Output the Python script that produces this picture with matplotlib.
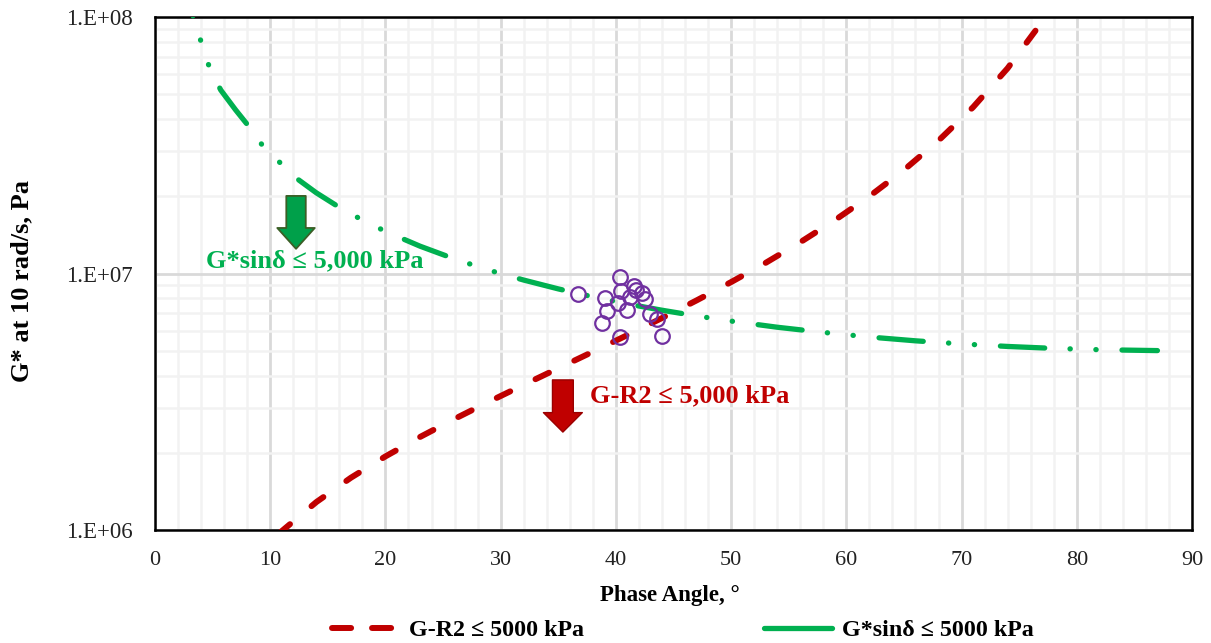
import matplotlib
matplotlib.use("Agg")
import matplotlib.pyplot as plt
from matplotlib.patches import FancyArrowPatch
from matplotlib.lines import Line2D
from matplotlib.ticker import FixedLocator, FuncFormatter, LogLocator, MultipleLocator
import numpy as np

plt.rcParams['font.family'] = ['Liberation Serif', 'DejaVu Serif']

# ---- data ----
gr_angle = [10, 11, 14, 17, 20, 23, 26, 29, 32, 35, 38, 41, 44, 47, 50, 53, 56,
            59, 62, 65, 68, 71, 74, 77, 78]
gr_gstar = [8.95e5, 9.90e5, 1.285e6, 1.599e6, 1.937e6, 2.306e6, 2.713e6, 3.169e6,
            3.684e6, 4.274e6, 4.958e6, 5.759e6, 6.713e6, 7.862e6, 9.270e6, 1.102e7,
            1.326e7, 1.616e7, 2.003e7, 2.537e7, 3.304e7, 4.460e7, 6.33e7, 9.62e7, 1.13e8]

gs_angle = [3.0, 3.33, 4.06, 4.75, 5.71, 7.0, 8.11, 9.4, 11, 12, 14, 16, 18, 20, 23,
            26, 29, 32, 35, 38, 41, 44, 47, 50, 54, 58, 62, 66, 70, 74, 78, 82, 87]
gs_gstar = [1.12e8, 1.0e8, 7.87e7, 6.32e7, 5.2e7, 4.35e7, 3.77e7, 3.13e7, 2.67e7,
            2.405e7, 2.067e7, 1.814e7, 1.618e7, 1.462e7, 1.280e7, 1.141e7, 1.031e7,
            9.44e6, 8.72e6, 8.12e6, 7.62e6, 7.20e6, 6.84e6, 6.53e6, 6.18e6, 5.90e6,
            5.66e6, 5.47e6, 5.32e6, 5.20e6, 5.11e6, 5.05e6, 5.01e6]

pts_angle = [36.67, 40.35, 39.04, 40.43, 41.54, 41.74, 41.24, 42.23, 42.52, 39.19,
             40.15, 40.96, 42.98, 43.57, 38.76, 40.35, 43.97]
pts_gstar = [8.33e6, 9.68e6, 8.06e6, 8.56e6, 8.98e6, 8.64e6, 8.13e6, 8.39e6, 7.97e6,
             7.17e6, 7.71e6, 7.22e6, 6.97e6, 6.66e6, 6.40e6, 5.65e6, 5.71e6]

x_ticks = [0, 10, 20, 30, 40, 50, 60, 70, 80, 90]
y_ticks = [1e6, 1e7, 1e8]

RED = '#c00000'
GREEN = '#00b050'
PURPLE = '#7030a0'

fig = plt.figure(figsize=(12.11, 6.43), dpi=100)
W, H = 1211, 643
ax = fig.add_axes([155 / W, 1 - 530 / H, (1192 - 155) / W, (530 - 17.3) / H])

ax.set_yscale('log')
ax.set_xlim(0, 90)
ax.set_ylim(1e6, 1e8)

# grid
ax.xaxis.set_major_locator(FixedLocator(x_ticks))
ax.xaxis.set_minor_locator(MultipleLocator(2))
ax.yaxis.set_major_locator(FixedLocator(y_ticks))
ax.yaxis.set_minor_locator(LogLocator(base=10, subs=np.arange(2, 10)))
ax.grid(which='major', color='#d9d9d9', lw=2.0, zorder=0)
ax.grid(which='minor', color='#f2f2f2', lw=1.8, zorder=0)
ax.set_axisbelow(True)
ax.tick_params(which='both', length=0)
ax.tick_params(axis='x', labelsize=16, pad=15, colors='#222222')
ax.tick_params(axis='y', labelsize=16.5, pad=16.2, colors='#222222')
ax.yaxis.set_minor_formatter(FuncFormatter(lambda v, p: ''))
ax.yaxis.set_major_formatter(FuncFormatter(lambda v, p: '1.E+%02d' % int(round(np.log10(v)))))
for s in ax.spines.values():
    s.set_linewidth(1.8)
    s.set_color('black')

# curves
red_line, = ax.plot(gr_angle, gr_gstar, color=RED, lw=4.3, solid_capstyle='round',
                    dash_capstyle='round', ls=(5.2, (2.5, 4.7)), zorder=3)
green_line, = ax.plot(gs_angle, gs_gstar, color=GREEN, lw=3.8, dash_capstyle='round',
                      solid_capstyle='round',
                      ls=(6.2, (8.4, 4.8, 0.05, 4.85, 0.05, 4.9)), zorder=3)

ax.plot(pts_angle, pts_gstar, ls='none', marker='o', ms=10.5, mfc='none', mec=PURPLE,
        mew=1.6, zorder=4)

# annotations
ga = FancyArrowPatch((12.24, 2.01e7), (12.24, 1.25e7),
                     arrowstyle='simple,head_length=15,head_width=27,tail_width=14',
                     mutation_scale=1, fc='#00a04a', ec='#3b5e26', lw=1.3, zorder=5,
                     shrinkA=0, shrinkB=0)
ax.add_patch(ga)
ra = FancyArrowPatch((35.4, 3.85e6), (35.4, 2.41e6),
                     arrowstyle='simple,head_length=14,head_width=28,tail_width=15',
                     mutation_scale=1, fc=RED, ec='#9a0000', lw=1.0, zorder=5,
                     shrinkA=0, shrinkB=0)
ax.add_patch(ra)
ax.text(4.43, 1.12e7, 'G*sin\u03b4 \u2264 5,000 kPa', color=GREEN, fontsize=19,
        fontweight='bold', va='center', ha='left', zorder=6)
ax.text(37.76, 3.33e6, 'G-R2 \u2264 5,000 kPa', color=RED, fontsize=19,
        fontweight='bold', va='center', ha='left', zorder=6)

ax.set_xlabel('Phase Angle, \u00b0', fontsize=16.5, fontweight='bold')
ax.xaxis.set_label_coords(0.4966, -0.1073)
ax.set_ylabel('G* at 10 rad/s, Pa', fontsize=19, fontweight='bold')
ax.yaxis.set_label_coords(-0.1176, 0.4847)

# legend proxies
red_h = Line2D([], [], color=RED, lw=4.3, dash_capstyle='round', dashes=[3.2, 3.5])
green_h = Line2D([], [], color=GREEN, lw=3.8, solid_capstyle='round')
fig.legend(handles=[red_h, green_h],
           labels=['G-R2 \u2264 5000 kPa', 'G*sin\u03b4 \u2264 5000 kPa'],
           loc='center', bbox_to_anchor=(0.5636, 0.02),
           ncol=2, frameon=False, prop={'weight': 'bold', 'size': 17.3},
           handlelength=2.8, columnspacing=7.5, handletextpad=0.42)

fig.savefig('out.png', dpi=100)
